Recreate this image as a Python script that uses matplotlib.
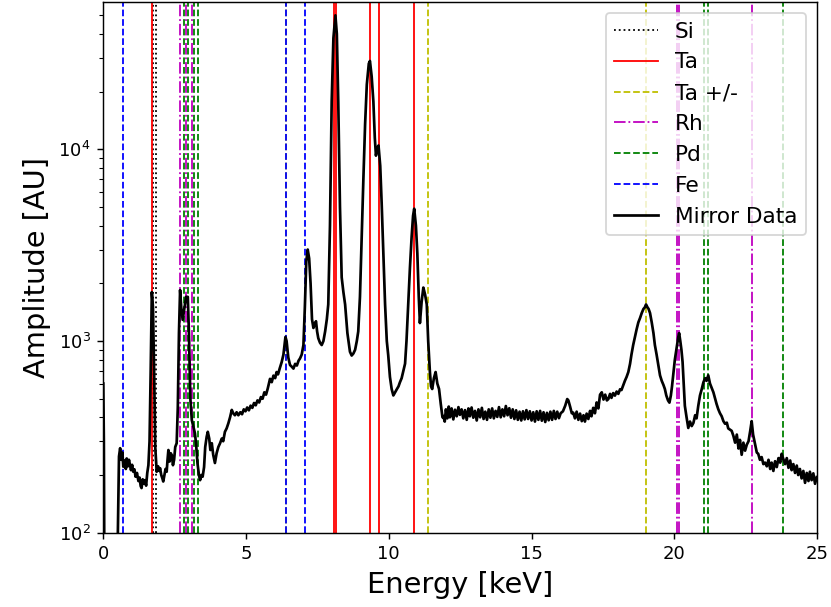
import matplotlib
matplotlib.use("Agg")
import matplotlib.pyplot as plt
import numpy as np

# emission line energies [keV]
SI_LINES = [1.740, 1.836]
TA_LINES = [1.710, 8.088, 8.146, 9.343, 9.652, 10.895]
TA_PM_LINES = [6.406, 11.36, 19.02]
RH_LINES = [2.69, 2.90, 3.12, 20.08, 20.17, 22.72]
PD_LINES = [2.81, 2.98, 3.16, 3.30, 21.03, 21.17, 23.82]
FE_LINES = [0.705, 6.404, 7.058]

energy_kev = [
    0.00, 0.02, 0.04, 0.48, 0.55, 0.59, 0.63, 0.67, 0.70, 0.75,
    0.79, 0.82, 0.86, 0.90, 0.93, 0.97, 1.01, 1.05, 1.09, 1.13,
    1.18, 1.23, 1.27, 1.31, 1.34, 1.38, 1.42, 1.46, 1.50, 1.54,
    1.58, 1.62, 1.66, 1.70, 1.74, 1.78, 1.82, 1.87, 1.92, 1.96,
    1.99, 2.03, 2.07, 2.10, 2.14, 2.18, 2.22, 2.25, 2.28, 2.32,
    2.36, 2.40, 2.44, 2.48, 2.52, 2.57, 2.61, 2.65, 2.69, 2.73,
    2.78, 2.83, 2.90, 2.96, 3.00, 3.05, 3.10, 3.15, 3.21, 3.25,
    3.30, 3.35, 3.39, 3.44, 3.48, 3.53, 3.57, 3.62, 3.66, 3.71,
    3.75, 3.80, 3.85, 3.91, 3.97, 4.03, 4.09, 4.15, 4.20, 4.26,
    4.32, 4.38, 4.44, 4.50, 4.55, 4.61, 4.67, 4.73, 4.80, 4.86,
    4.92, 4.98, 5.04, 5.10, 5.16, 5.22, 5.28, 5.34, 5.40, 5.46,
    5.52, 5.58, 5.64, 5.70, 5.76, 5.84, 5.90, 5.96, 6.02, 6.07,
    6.12, 6.18, 6.25, 6.31, 6.38, 6.42, 6.48, 6.54, 6.60, 6.66,
    6.72, 6.78, 6.84, 6.89, 6.95, 7.01, 7.06, 7.11, 7.16, 7.21,
    7.26, 7.31, 7.36, 7.41, 7.45, 7.49, 7.53, 7.59, 7.65, 7.71,
    7.77, 7.83, 7.88, 7.94, 8.00, 8.06, 8.13, 8.18, 8.23, 8.29,
    8.35, 8.41, 8.47, 8.55, 8.64, 8.70, 8.76, 8.82, 8.88, 8.93,
    8.99, 9.05, 9.11, 9.17, 9.23, 9.30, 9.34, 9.40, 9.46, 9.51,
    9.55, 9.60, 9.64, 9.70, 9.75, 9.81, 9.87, 9.93, 9.98, 10.04,
    10.10, 10.16, 10.22, 10.28, 10.34, 10.39, 10.45, 10.51, 10.57, 10.62,
    10.68, 10.74, 10.80, 10.85, 10.89, 10.95, 11.00, 11.05, 11.09, 11.15,
    11.21, 11.27, 11.33, 11.38, 11.44, 11.48, 11.52, 11.58, 11.64, 11.70,
    11.76, 11.82, 11.88, 11.91, 11.96, 12.00, 12.05, 12.10, 12.14, 12.20,
    12.26, 12.32, 12.38, 12.44, 12.49, 12.55, 12.61, 12.67, 12.73, 12.79,
    12.84, 12.90, 12.96, 13.02, 13.08, 13.14, 13.20, 13.26, 13.32, 13.38,
    13.44, 13.50, 13.56, 13.62, 13.68, 13.74, 13.80, 13.86, 13.92, 13.98,
    14.04, 14.10, 14.16, 14.22, 14.28, 14.34, 14.40, 14.46, 14.52, 14.58,
    14.64, 14.70, 14.76, 14.82, 14.88, 14.94, 15.00, 15.06, 15.12, 15.18,
    15.24, 15.30, 15.36, 15.42, 15.48, 15.54, 15.60, 15.66, 15.72, 15.78,
    15.84, 15.90, 15.96, 16.02, 16.10, 16.18, 16.25, 16.29, 16.35, 16.41,
    16.46, 16.52, 16.58, 16.64, 16.70, 16.76, 16.82, 16.87, 16.93, 16.99,
    17.05, 17.10, 17.16, 17.22, 17.28, 17.34, 17.40, 17.46, 17.52, 17.58,
    17.64, 17.69, 17.75, 17.80, 17.86, 17.92, 17.98, 18.04, 18.10, 18.15,
    18.21, 18.27, 18.33, 18.39, 18.45, 18.50, 18.56, 18.62, 18.68, 18.74,
    18.80, 18.86, 18.92, 18.97, 19.01, 19.06, 19.10, 19.15, 19.21, 19.27,
    19.32, 19.38, 19.44, 19.50, 19.56, 19.62, 19.67, 19.72, 19.78, 19.83,
    19.88, 19.92, 19.96, 20.02, 20.08, 20.14, 20.17, 20.21, 20.25, 20.29,
    20.33, 20.37, 20.43, 20.49, 20.55, 20.61, 20.67, 20.73, 20.78, 20.84,
    20.90, 20.96, 21.02, 21.08, 21.13, 21.19, 21.25, 21.31, 21.37, 21.43,
    21.48, 21.54, 21.60, 21.66, 21.72, 21.78, 21.84, 21.89, 21.95, 22.01,
    22.07, 22.13, 22.19, 22.25, 22.30, 22.36, 22.42, 22.48, 22.54, 22.60,
    22.66, 22.71, 22.76, 22.83, 22.89, 22.94, 23.00, 23.06, 23.12, 23.18,
    23.24, 23.30, 23.36, 23.41, 23.47, 23.53, 23.59, 23.65, 23.71, 23.76,
    23.82, 23.88, 23.94, 24.00, 24.06, 24.11, 24.17, 24.23, 24.29, 24.34,
    24.40, 24.46, 24.52, 24.58, 24.64, 24.70, 24.75, 24.81, 24.87, 24.93,
    24.99,
]
amplitude = [
    600, 300, 50, 50, 250, 276, 240, 262, 221, 238,
    215, 244, 222, 240, 228, 212, 226, 208, 214, 196,
    205, 186, 194, 175, 171, 190, 180, 188, 176, 205,
    225, 300, 700, 1800, 1500, 700, 280, 208, 222, 210,
    217, 200, 192, 185, 200, 215, 208, 240, 270, 235,
    260, 254, 225, 240, 280, 293, 450, 1100, 1845, 1500,
    1290, 1450, 1700, 1700, 1100, 500, 387, 360, 330, 290,
    230, 200, 188, 200, 196, 220, 280, 316, 336, 310,
    270, 293, 255, 231, 260, 280, 293, 310, 300, 336,
    350, 372, 400, 437, 420, 410, 425, 410, 425, 415,
    440, 430, 450, 435, 460, 448, 475, 462, 490, 478,
    510, 500, 540, 525, 565, 635, 610, 660, 640, 689,
    670, 720, 778, 850, 1050, 1000, 820, 750, 735, 718,
    760, 745, 790, 811, 850, 953, 1500, 2600, 3000, 2700,
    2000, 1300, 1170, 1230, 1268, 1120, 1035, 980, 953, 1000,
    1122, 1300, 1552, 4000, 17750, 38000, 50000, 40000, 17750, 5000,
    2148, 1800, 1552, 1100, 879, 840, 861, 900, 1000, 1122,
    1700, 3500, 7000, 13500, 21770, 28000, 28900, 24000, 17750, 11500,
    9270, 10200, 10470, 8200, 5250, 2800, 1552, 1000, 844, 650,
    562, 520, 540, 560, 580, 609, 640, 700, 762, 1000,
    1552, 2400, 3500, 4500, 4900, 4000, 2860, 1700, 1241, 1600,
    1900, 1750, 1552, 1000, 689, 580, 562, 640, 689, 600,
    562, 470, 400, 406, 380, 440, 395, 455, 400, 445,
    390, 438, 405, 452, 412, 440, 395, 436, 388, 445,
    405, 450, 398, 432, 385, 440, 400, 448, 392, 428,
    388, 440, 398, 445, 395, 432, 402, 452, 400, 440,
    405, 458, 410, 446, 398, 440, 392, 435, 388, 428,
    385, 430, 390, 436, 392, 430, 385, 425, 380, 430,
    388, 432, 384, 425, 378, 422, 386, 428, 388, 432,
    392, 428, 396, 420, 430, 460, 498, 490, 455, 420,
    423, 395, 428, 388, 418, 382, 410, 380, 418, 392,
    432, 405, 448, 420, 478, 445, 525, 540, 495, 525,
    490, 498, 530, 505, 535, 519, 545, 530, 560, 555,
    586, 620, 650, 689, 760, 850, 953, 1050, 1150, 1250,
    1318, 1400, 1470, 1500, 1552, 1500, 1470, 1400, 1250, 1100,
    953, 850, 750, 662, 620, 590, 562, 520, 490, 477,
    520, 580, 662, 800, 914, 1050, 1099, 1000, 900, 778,
    600, 459, 400, 352, 380, 360, 374, 410, 395, 459,
    520, 560, 609, 640, 620, 662, 600, 570, 540, 500,
    470, 441, 420, 405, 382, 370, 375, 350, 345, 340,
    320, 295, 325, 275, 305, 255, 295, 268, 288, 300,
    340, 382, 325, 290, 262, 258, 240, 248, 228, 232,
    222, 240, 215, 232, 210, 236, 220, 245, 232, 258,
    242, 228, 245, 218, 238, 212, 228, 205, 224, 200,
    215, 192, 210, 182, 205, 186, 208, 188, 204, 180,
    195,
]

line_groups = [
    ("Si", SI_LINES, "k", ":"),
    ("Ta", TA_LINES, "r", "-"),
    ("Ta +/-", TA_PM_LINES, "y", "--"),
    ("Rh", RH_LINES, "m", "-."),
    ("Pd", PD_LINES, "g", "--"),
    ("Fe", FE_LINES, "b", "--"),
]

fig, ax = plt.subplots(figsize=(831 / 130, 607 / 130), dpi=130)
fig.subplots_adjust(left=0.1243, right=0.9832, bottom=0.1224, top=0.9967)

for name, energies, color, style in line_groups:
    for i, e in enumerate(energies):
        ax.axvline(e, color=color, linestyle=style, linewidth=1,
                   label=name if i == 0 else None)

ax.plot(np.array(energy_kev), np.array(amplitude), color="k", linewidth=1.5,
        label="Mirror Data")

ax.set_yscale("log")
ax.set_xlim(0, 25)
ax.set_ylim(100, 5.87e4)
ax.set_xlabel("Energy [keV]", fontsize=16)
ax.set_ylabel("Amplitude [AU]", fontsize=16)
ax.legend(loc="upper right", fontsize=12)

plt.savefig("out.png", dpi=130)
plt.close()
